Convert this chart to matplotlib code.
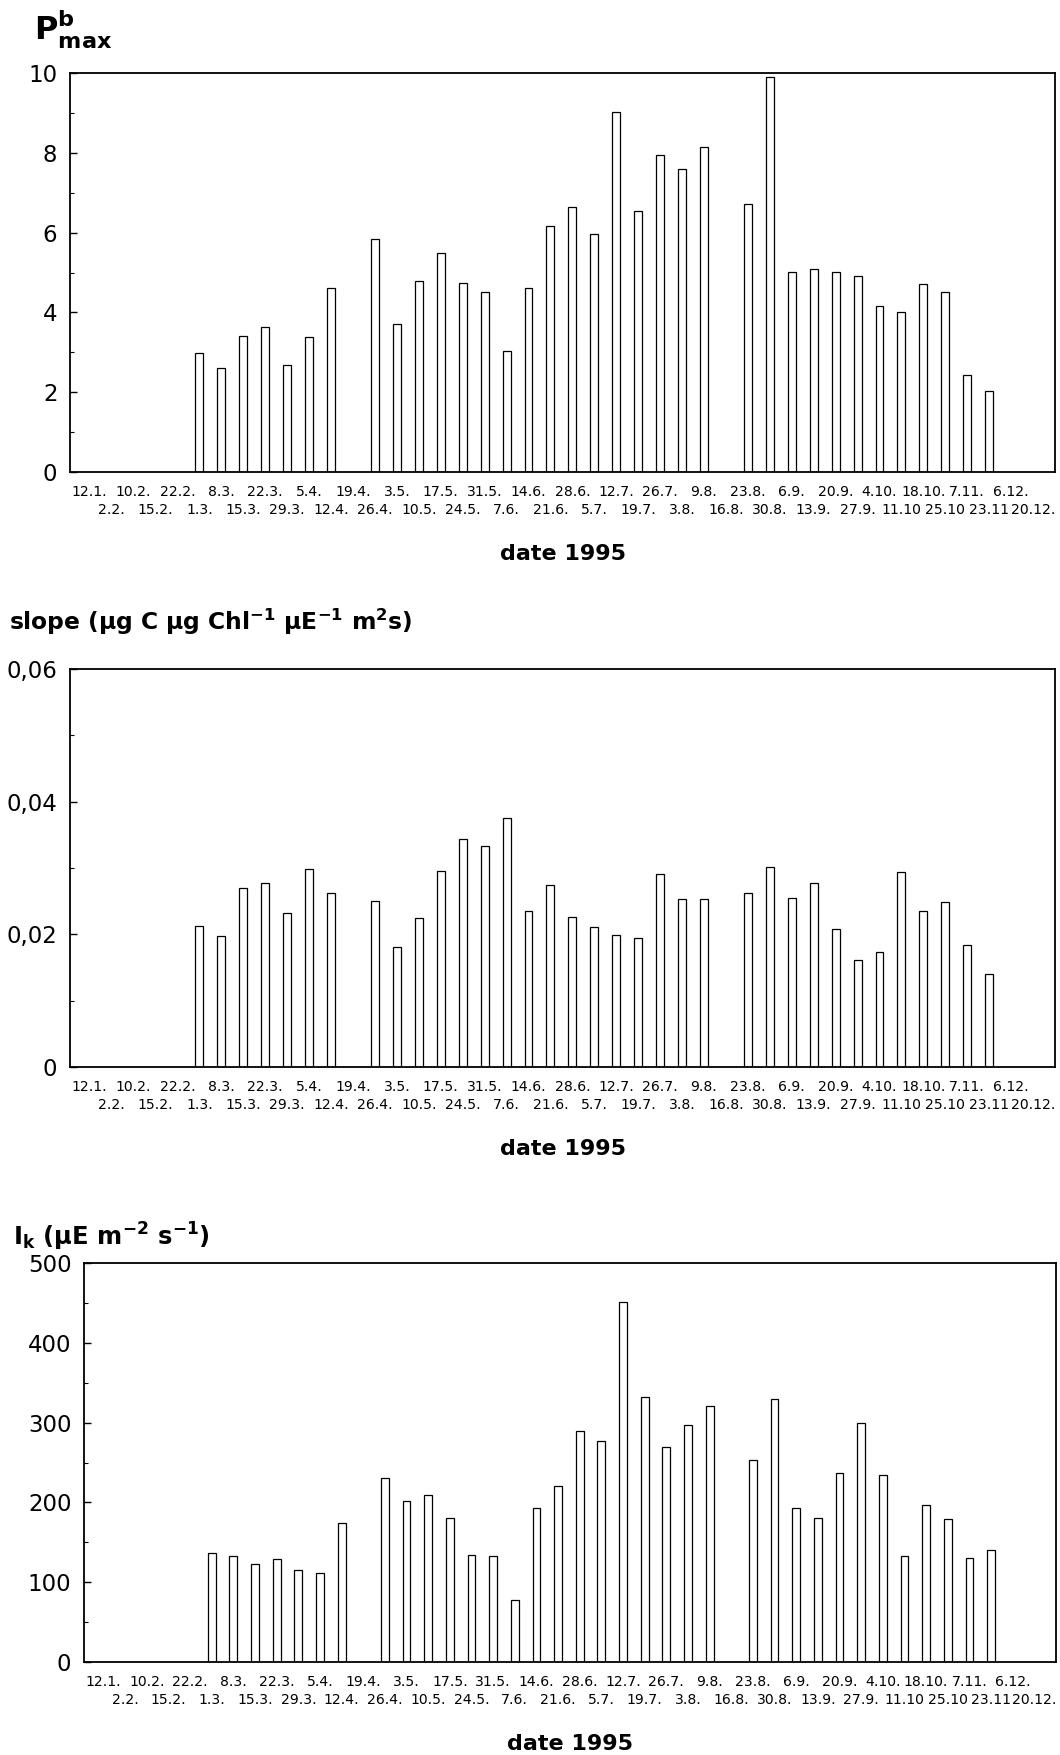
import numpy as np
import matplotlib.pyplot as plt
from matplotlib.ticker import MultipleLocator, FuncFormatter

plt.rcParams["font.family"] = ["DejaVu Sans"]
plt.rcParams["mathtext.fontset"] = "dejavusans"

W, H = 1060, 1755

dates = ["12.1.", "2.2.", "10.2.", "15.2.", "22.2.", "1.3.", "8.3.", "15.3.", "22.3.", "29.3.",
         "5.4.", "12.4.", "19.4.", "26.4.", "3.5.", "10.5.", "17.5.", "24.5.", "31.5.", "7.6.",
         "14.6.", "21.6.", "28.6.", "5.7.", "12.7.", "19.7.", "26.7.", "3.8.", "9.8.", "16.8.",
         "23.8.", "30.8.", "6.9.", "13.9.", "20.9.", "27.9.", "4.10.", "11.10", "18.10.", "25.10",
         "7.11.", "23.11", "6.12.", "20.12."]

nan = np.nan
pmax = [nan] * 5 + [2.97, 2.60, 3.42, 3.64, 2.69, 3.39, 4.62, nan,
                    5.85, 3.70, 4.79, 5.49, 4.73, 4.51, 3.03, 4.62, 6.16, 6.64, 5.97, 9.02,
                    6.55, 7.95, 7.59, 8.15, nan,
                    6.72, 9.89, 5.01, 5.10, 5.01, 4.90, 4.15, 4.00, 4.71, 4.51, 2.44, 2.02] + [nan] * 2
slope = [nan] * 5 + [0.0213, 0.0198, 0.0270, 0.0277, 0.0232, 0.0299, 0.0262, nan,
                     0.0250, 0.0181, 0.0225, 0.0296, 0.0343, 0.0333, 0.0375, 0.0235, 0.0274,
                     0.0226, 0.0211, 0.0199, 0.0194, 0.0291, 0.0254, 0.0254, nan,
                     0.0262, 0.0301, 0.0255, 0.0277, 0.0208, 0.0162, 0.0174, 0.0294, 0.0235,
                     0.0248, 0.0184, 0.0140] + [nan] * 2
ik = [nan] * 5 + [137, 133, 123, 129, 115, 111, 174, nan,
                  231, 202, 209, 181, 134, 133, 78, 193, 220, 289, 277, 451, 332, 270, 297, 321, nan,
                  253, 329, 193, 181, 237, 300, 234, 133, 197, 179, 130, 140] + [nan] * 2


def px_axes(fig, left, top, right, bottom):
    return fig.add_axes([left / W, 1 - bottom / H, (right - left) / W, (bottom - top) / H])


def draw_panel(ax, values, ymax, step, fmt=None):
    x = np.arange(len(dates))
    v = np.array(values, dtype=float)
    ok = ~np.isnan(v)
    ax.bar(x[ok], v[ok], width=0.36, facecolor="white", edgecolor="black", linewidth=0.9)
    ax.set_xlim(-0.9, 44.0)
    ax.set_ylim(0, ymax)
    ax.yaxis.set_major_locator(MultipleLocator(step))
    ax.yaxis.set_minor_locator(MultipleLocator(step / 2))
    if fmt is not None:
        ax.yaxis.set_major_formatter(FuncFormatter(fmt))
    ax.set_xticks(x, dates, fontsize=10.1)
    ax.tick_params(axis="x", length=0)
    ax.tick_params(axis="y", which="major", direction="in", length=5, width=1, labelsize=16.5, pad=9)
    ax.tick_params(axis="y", which="minor", direction="in", length=3, width=0.8)
    # two staggered rows of date labels
    for i, t in enumerate(ax.xaxis.get_major_ticks()):
        t.set_pad(9.5 if i % 2 == 0 else 22.5)
    for s in ax.spines.values():
        s.set_linewidth(1.3)
    ax.text(0.5, -0.205, "date 1995", transform=ax.transAxes, ha="center", va="center",
            fontsize=16, fontweight="bold")


def comma_fmt(v, pos):
    return "0" if abs(v) < 1e-12 else f"{v:.2f}".replace(".", ",")


fig = plt.figure(figsize=(W / 100, H / 100), dpi=100)

ax1 = px_axes(fig, 70, 73, 1055, 472)
draw_panel(ax1, pmax, 10, 2)
fig.text(34 / W, 1 - 40 / H, r"$\mathbf{P}^{\mathbf{b}}_{\mathbf{max}}$", fontsize=23,
         ha="left", va="baseline")

ax2 = px_axes(fig, 70, 669, 1055, 1067)
draw_panel(ax2, slope, 0.06, 0.02, comma_fmt)
fig.text(9 / W, 1 - 622 / H, r"slope (µg C µg Chl$^{\mathbf{-1}}$ µE$^{\mathbf{-1}}$ m$^{\mathbf{2}}$s)",
         fontsize=16.8, fontweight="bold", ha="left", va="center")

ax3 = px_axes(fig, 84, 1263, 1056, 1662)
draw_panel(ax3, ik, 500, 100)
fig.text(13 / W, 1 - 1237 / H, r"I$_{\mathbf{k}}$ (µE m$^{\mathbf{-2}}$ s$^{\mathbf{-1}}$)",
         fontsize=17.5, fontweight="bold", ha="left", va="center")

fig.savefig("out.png", dpi=100)
print("saved out.png")
